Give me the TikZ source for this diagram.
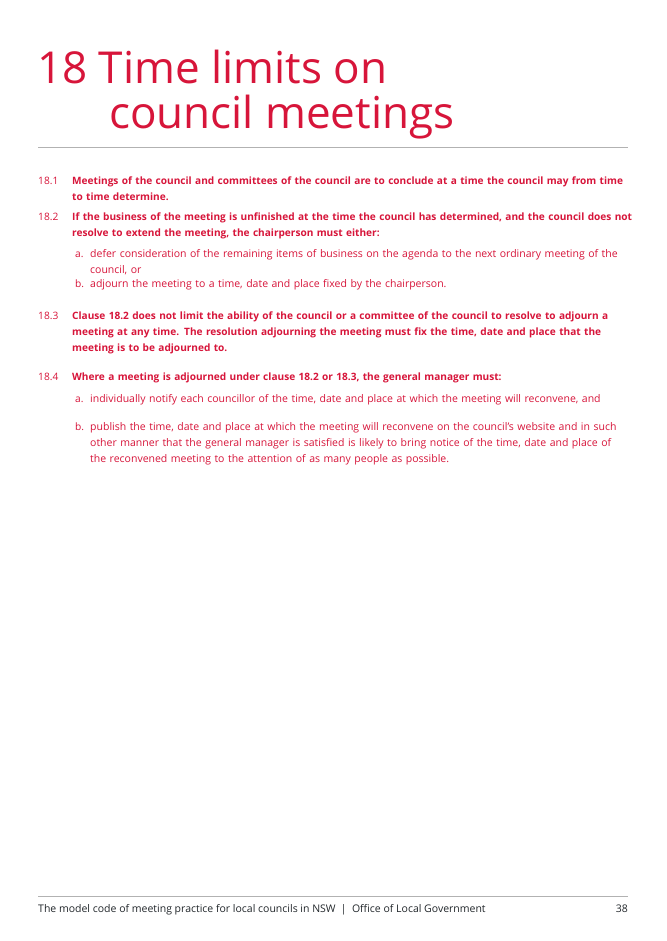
\documentclass[tikz,border=0pt]{standalone}
\usepackage{fontspec}
\setmainfont{Open Sans}
\definecolor{nswred}{HTML}{D7153A}
\definecolor{txt}{HTML}{22272B}
\begin{document}
\begin{tikzpicture}[x=1pt,y=-1pt,
  num/.style={anchor=base west,inner sep=0,text=nswred,font=\fontsize{10.2}{16}\selectfont},
  main/.style={anchor=base west,inner sep=0,text=nswred,text width=590pt,align=left,font=\fontsize{10.1}{16}\selectfont\bfseries},
  sub/.style={anchor=base west,inner sep=0,text=nswred,text width=560pt,align=left,font=\fontsize{10.5}{16}\selectfont},
  rule/.style={line width=0.5pt,draw=gray!60}]
\useasboundingbox[fill=white] (0,0) rectangle (666,941);
\node[anchor=base west,inner sep=0,text=nswred,font=\fontsize{44}{44}\selectfont] (t1) at (37,84) {18 Time limits on};
\node[anchor=base west,inner sep=0,text=nswred,font=\fontsize{44}{44}\selectfont] (t2) at (109,129) {council meetings};
\coordinate (r1a) at (38,147); \coordinate (r1b) at (628,147);
\draw[rule] (r1a) -- (r1b);
\node[num] (n1) at (38,185) {18.1};
\node[main] (p1) at (72,185) {Meetings of the council and committees of the council are to conclude at a time the council may from time\\to time determine.};
\node[num] (n2) at (38,221) {18.2};
\node[main] (p2) at (72,221) {If the business of the meeting is unfinished at the time the council has determined, and the council does not\\resolve to extend the meeting, the chairperson must either:};
\node[num] (a2) at (75,257) {a.};
\node[sub] (s2a) at (90,257) {defer consideration of the remaining items of business on the agenda to the next ordinary meeting of the\\council, or};
\node[num] (b2) at (75,287) {b.};
\node[sub] (s2b) at (90,287) {adjourn the meeting to a time, date and place fixed by the chairperson.};
\node[num] (n3) at (38,319) {18.3};
\node[main] (p3) at (72,319) {Clause 18.2 does not limit the ability of the council or a committee of the council to resolve to adjourn a\\meeting at any time. The resolution adjourning the meeting must fix the time, date and place that the\\meeting is to be adjourned to.};
\node[num] (n4) at (38,380) {18.4};
\node[main] (p4) at (72,380) {Where a meeting is adjourned under clause 18.2 or 18.3, the general manager must:};
\node[num] (a4) at (75,402) {a.};
\node[sub] (s4a) at (90,402) {individually notify each councillor of the time, date and place at which the meeting will reconvene, and};
\node[num] (b4) at (75,430) {b.};
\node[sub] (s4b) at (90,430) {publish the time, date and place at which the meeting will reconvene on the council's website and in such\\other manner that the general manager is satisfied is likely to bring notice of the time, date and place of\\the reconvened meeting to the attention of as many people as possible.};
\coordinate (r2a) at (38,896); \coordinate (r2b) at (628,896);
\draw[rule] (r2a) -- (r2b);
\node[anchor=base west,inner sep=0,text=txt,font=\fontsize{10.5}{12}\selectfont] (f1) at (38,912) {The model code of meeting practice for local councils in NSW\enspace|\enspace Office of Local Government};
\node[anchor=base east,inner sep=0,text=txt,font=\fontsize{10.5}{12}\selectfont] (f2) at (628,912) {38};
\end{tikzpicture}
\end{document}
